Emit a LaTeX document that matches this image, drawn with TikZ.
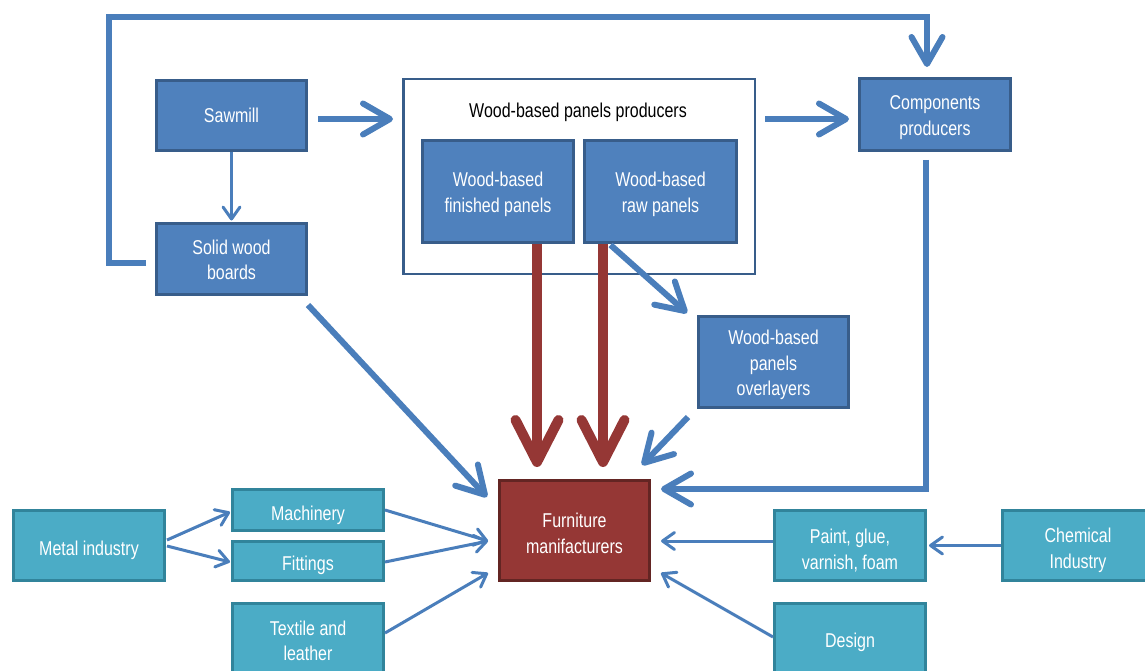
\documentclass[tikz,border=0pt]{standalone}
\usepackage{fontspec}
\setmainfont{Liberation Sans}[FakeStretch=0.8]
\usetikzlibrary{arrows.meta,calc}
\definecolor{bfill}{HTML}{4F81BD}
\definecolor{bdraw}{HTML}{385D8A}
\definecolor{rfill}{HTML}{953735}
\definecolor{rdraw}{HTML}{632523}
\definecolor{tfill}{HTML}{4BACC6}
\definecolor{tdraw}{HTML}{31849B}
\definecolor{conb}{HTML}{4A7EBB}
\definecolor{conr}{HTML}{953735}
\newcommand\tup[1]{\rule{0pt}{\dimexpr 14.5pt+#1pt+#1pt\relax}}
\tikzset{
  basebox/.style={draw, line width=3pt, align=center, text=white, inner sep=2pt,
    font=\fontsize{20}{25.5}\selectfont},
  bluebox/.style={basebox, fill=bfill, draw=bdraw},
  redbox/.style={basebox, fill=rfill, draw=rdraw},
  tealbox/.style={basebox, fill=tfill, draw=tdraw},
  sz/.style 2 args={minimum width=#1pt, minimum height=#2pt},
  thinarrow/.style={draw=conb, line width=3pt, -{Straight Barb[length=12pt,width=17pt,round]}},
  thickarrow/.style={draw=conb, line width=6pt, -{Straight Barb[length=27pt,width=31pt,round]}},
  redarrow/.style={draw=conr, line width=10pt, -{Straight Barb[length=42pt,width=43pt,round]}},
}
\begin{document}
\begin{tikzpicture}[x=1pt,y=-1pt]
\useasboundingbox (0,0) rectangle (1145,671);
% nodes
\node[bluebox, sz={150}{70}] (saw) at (231.5,115.5) {Sawmill};
\node[bluebox, sz={150}{71}] (solid) at (231.5,259) {\tup{1}Solid wood\\boards};
\node[draw=bdraw, line width=2.5pt, fill=white, sz={351.5}{194.5}] (wbp) at (579,176.5) {};
\node[font=\fontsize{20}{26}\selectfont, text=black] (wbptitle) at (578,112.5) {Wood-based panels producers};
\node[bluebox, sz={151}{102}] (fin) at (498,191.5) {\tup{3}Wood-based\\finished panels};
\node[bluebox, sz={152}{102}] (raw) at (660.5,191.5) {\tup{3}Wood-based\\raw panels};
\node[bluebox, sz={151}{72}] (comp) at (935,114.5) {\tup{3}Components\\producers};
\node[bluebox, sz={150}{91}] (over) at (773.5,362) {\tup{3}Wood-based\\panels\\overlayers};
\node[redbox, sz={150}{100}] (furn) at (574.5,530.5) {\tup{3}Furniture\\manifacturers};
\node[tealbox, sz={151}{70}] (metal) at (89,545.5) {\tup{5}Metal industry};
\node[tealbox, sz={151}{41}] (mach) at (308,510) {\tup{5}Machinery};
\node[tealbox, sz={151}{39}] (fit) at (308,561) {\tup{4}Fittings};
\node[tealbox, sz={151}{75}] (textile) at (308,641) {Textile and\\leather};
\node[tealbox, sz={151}{70}] (paint) at (850,545.5) {\tup{5}Paint, glue,\\varnish, foam};
\node[tealbox, sz={151}{70}] (chem) at (1078,545.5) {\tup{5}Chemical\\Industry};
\node[tealbox, sz={151}{75}] (design) at (850,641) {\tup{1}Design};
\coordinate (loopTL) at (109,17);
% connectors
\draw[thinarrow] (saw.south) -- ([yshift=1.5pt]solid.north);
\draw[thickarrow] ([shift={(10,3.5)}]saw.east) -- ([shift={(-9,-57.5)}]wbp.west);
\draw[thickarrow] ([shift={(9,-57.5)}]wbp.east) -- ([shift={(-9,4.5)}]comp.west);
\draw[thickarrow] ([shift={(-9,4)}]solid.west) -| (loopTL) -| ([shift={(-8,-10)}]comp.north);
\draw[thickarrow] ([shift={(-9,8)}]comp.south) |- ([shift={(10,-41.5)}]furn.east);
\draw[thickarrow] ([shift={(0,9)}]solid.south east) -- ([shift={(-11,18)}]furn.north west);
\draw[redarrow] ([xshift=39pt]fin.south) -- ([shift={(-37.5,-12)}]furn.north);
\draw[redarrow] ([xshift=-57.5pt]raw.south) -- ([shift={(28.5,-12)}]furn.north);
\draw[thickarrow] ([shift={(-50,1)}]raw.south) -- ([shift={(-10,-2)}]over.north west);
\draw[thickarrow] ([shift={(-9,8)}]over.south west) -- ([shift={(-9,-14)}]furn.north east);
\draw[thinarrow] ([shift={(1,-5.5)}]metal.east) -- ([shift={(-1,2)}]mach.west);
\draw[thinarrow] ([shift={(1,0.5)}]metal.east) -- ([shift={(-1,1)}]fit.west);
\draw[thinarrow] (mach.east) -- ([shift={(-10,10.5)}]furn.west);
\draw[thinarrow] ([shift={(0,1)}]fit.east) -- ([shift={(-10,10.5)}]furn.west);
\draw[thinarrow] ([shift={(0,-8)}]textile.east) -- ([shift={(-10,42.5)}]furn.west);
\draw[thinarrow] ([shift={(0,-4.5)}]paint.west) -- ([shift={(10,10.5)}]furn.east);
\draw[thinarrow] ([shift={(0,-4)}]design.west) -- ([shift={(10,42.5)}]furn.east);
\draw[thinarrow] (chem.west) -- ([shift={(2,0)}]paint.east);
\end{tikzpicture}
\end{document}
